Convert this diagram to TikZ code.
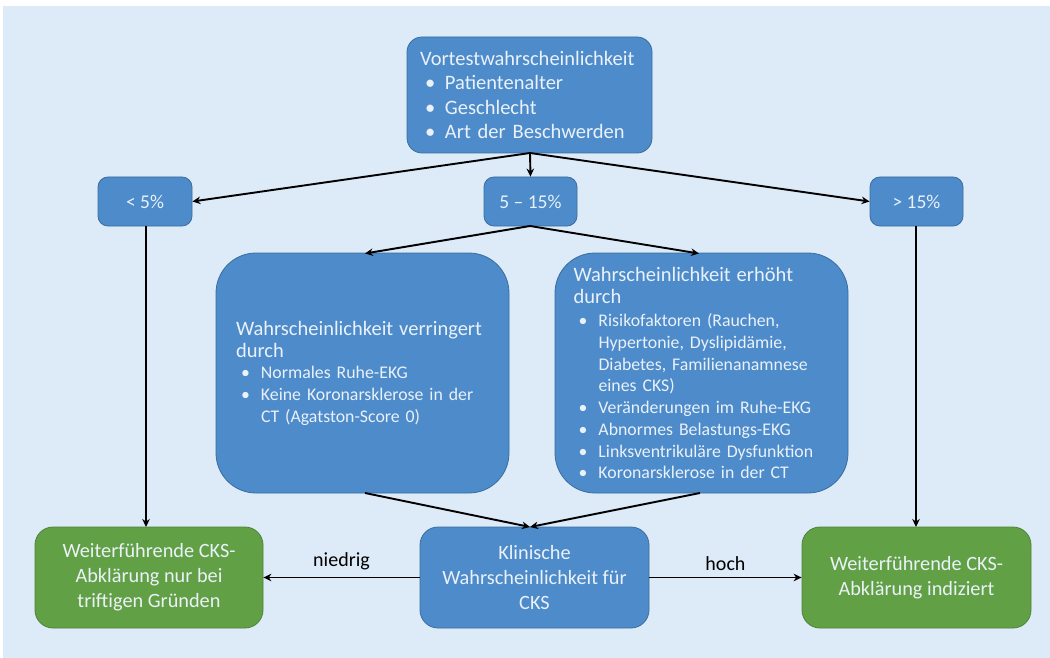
\documentclass[tikz,border=0pt]{standalone}
\usepackage{fontspec}
\setmainfont{Carlito}
\usetikzlibrary{arrows.meta}
\definecolor{bgblue}{HTML}{DDEAF7}
\definecolor{boxblue}{HTML}{4D8BCB}
\definecolor{boxbluedk}{HTML}{3A6E9F}
\definecolor{boxgreen}{HTML}{62A045}
\definecolor{boxgreendk}{HTML}{4D8236}
\definecolor{txtlight}{HTML}{EAF1F8}
\newcommand{\bul}{\makebox[25pt][l]{\hspace*{5pt}\textbullet}}
\newcommand{\bulind}{\hspace*{25pt}}
\tikzset{
  x=1pt, y=-1pt,
  bluebox/.style={draw=boxbluedk, line width=0.8pt, fill=boxblue, text=txtlight, inner sep=0pt},
  greenbox/.style={draw=boxgreendk, line width=0.8pt, fill=boxgreen, text=txtlight, inner sep=0pt, align=center, font=\fontsize{20.3}{25}\selectfont},
  conn/.style={line width=1.9pt, -{Stealth[length=8pt,width=7.5pt]}},
  lbl/.style={font=\fontsize{20}{22}\selectfont, text=black},
  smallbox/.style={bluebox, rounded corners=10pt, minimum height=49pt, font=\fontsize{19.5}{22}\selectfont}
}
\begin{document}
\begin{tikzpicture}
\useasboundingbox (0,0) rectangle (1050,658);
\fill[bgblue] (3,6) rectangle (1050,658);

\node[bluebox, rounded corners=15pt, minimum width=245pt, minimum height=116pt, text width=219pt, align=left, font=\fontsize{20.5}{24.5}\selectfont] (top) at (529.5,95)
{Vortestwahrscheinlichkeit\\ \bul Patientenalter\\ \bul Geschlecht\\ \bul Art der Beschwerden};

\node[smallbox, minimum width=94pt] (lt) at (145,201.5) {< 5\%};
\node[smallbox, minimum width=93pt] (mid) at (530.5,201.5) {5 – 15\%};
\node[smallbox, minimum width=93pt] (gt) at (916.5,201.5) {> 15\%};

\node[bluebox, rounded corners=40pt, minimum width=293pt, minimum height=240pt, text width=253pt, align=left, font=\fontsize{17.8}{22}\selectfont] (dec) at (362.5,373)
{{\fontsize{20.5}{26}\selectfont Wahrscheinlichkeit verringert\\ durch}\\[-1pt]
\bul Normales Ruhe-EKG\\
\bul Keine Koronarsklerose in der\\
\bulind CT (Agatston-Score 0)};

\node[bluebox, rounded corners=40pt, minimum width=293pt, minimum height=240pt, text width=256pt, align=left, font=\fontsize{17.8}{21.7}\selectfont] (inc) at (701.5,373)
{{\fontsize{20.5}{25}\selectfont Wahrscheinlichkeit erhöht\\ durch}\\[2pt]
\bul Risikofaktoren (Rauchen,\\
\bulind Hypertonie, Dyslipidämie,\\
\bulind Diabetes, Familienanamnese\\
\bulind eines CKS)\\
\bul Veränderungen im Ruhe-EKG\\
\bul Abnormes Belastungs-EKG\\
\bul Linksventrikuläre Dysfunktion\\
\bul Koronarsklerose in der CT};

\node[bluebox, rounded corners=18pt, minimum width=229pt, minimum height=101pt, align=center, font=\fontsize{20.3}{25}\selectfont] (clin) at (534.5,577.5)
{Klinische\\ Wahrscheinlichkeit für\\ CKS};

\node[greenbox, rounded corners=18pt, minimum width=228pt, minimum height=101pt] (gl) at (149,577.5)
{Weiterführende CKS-\\ Abklärung nur bei\\ triftigen Gründen};
\node[greenbox, rounded corners=18pt, minimum width=229pt, minimum height=101pt] (gr) at (916.5,577.5)
{Weiterführende CKS-\\ Abklärung indiziert};

\coordinate (topb) at (530,153);
\draw[conn] (topb) -- (lt.east);
\draw[conn] (topb) -- (mid.north);
\draw[conn] (topb) -- (gt.west);

\coordinate (midb) at (530,226);
\draw[conn] (midb) -- (365,253.5) coordinate (decn);
\draw[conn] (midb) -- (699,253.5) coordinate (incn);

\draw[conn] (lt.south -| 146,0) -- (146,527);
\draw[conn] (gt.south -| 916,0) -- (916,527);

\coordinate (clint) at (530,527);
\draw[conn] (365,493) -- (clint);
\draw[conn] (700,493) -- (clint);

\draw[conn] (clin.west) -- node[lbl, above=3pt] {niedrig} (gl.east);
\draw[conn] (clin.east) -- node[lbl, above=3pt] {hoch} (gr.west);
\end{tikzpicture}
\end{document}
